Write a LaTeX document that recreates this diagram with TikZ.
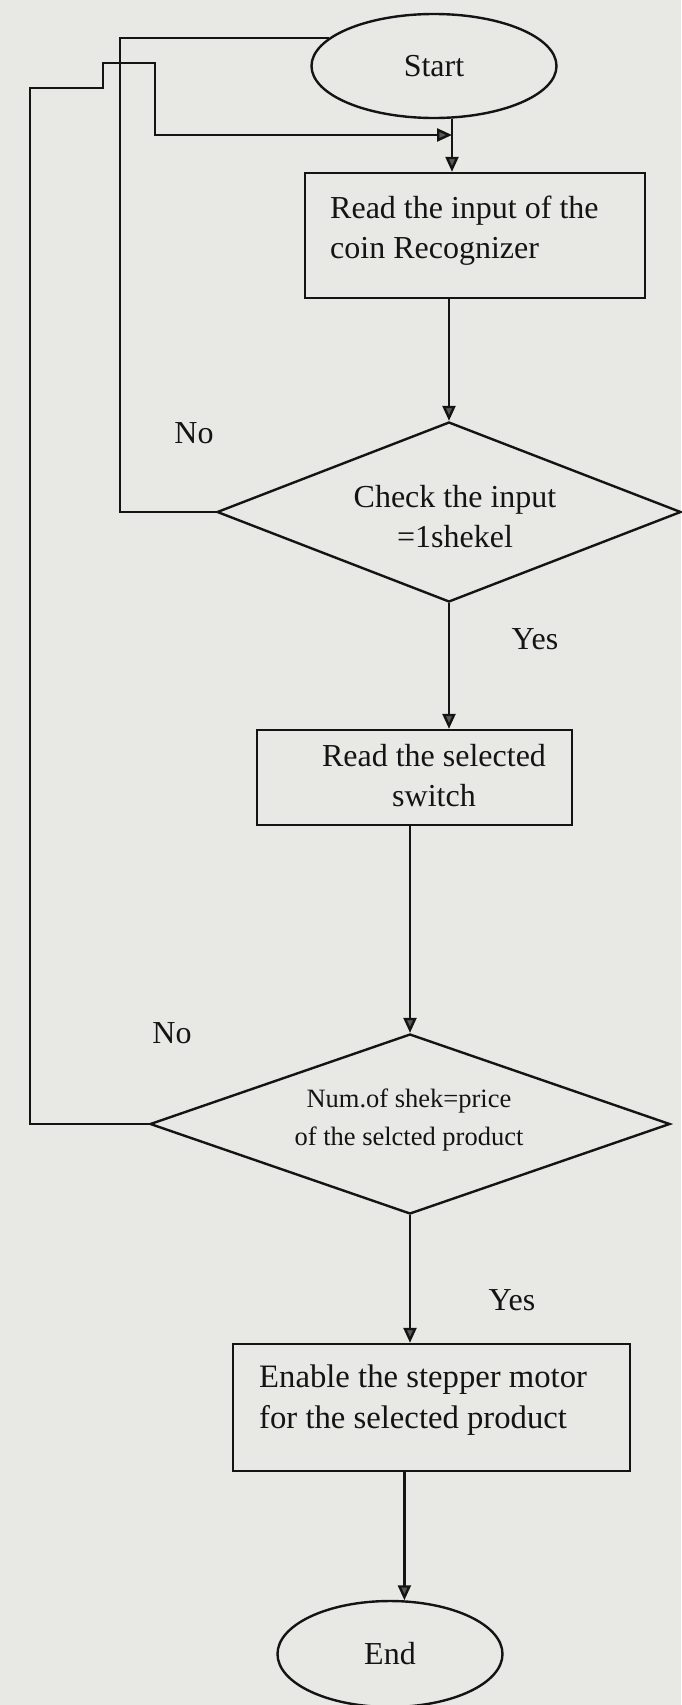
\documentclass[tikz,border=0pt]{standalone}
\usepackage{fontspec}
\setmainfont{Liberation Serif}
\usetikzlibrary{shapes.geometric,arrows.meta}
\definecolor{paper}{RGB}{232,232,229}
\definecolor{ink}{RGB}{20,20,20}
\begin{document}
\begin{tikzpicture}[x=1pt,y=-1pt,
  flow/.style={draw=ink, line width=2.4pt},
  arrow/.style={flow, -{Triangle[length=15pt,width=13pt,fill=black!65]}},
  term/.style={ellipse, draw=ink, line width=2.4pt, inner sep=0pt, text=ink,
    font=\fontsize{32}{40}\selectfont},
  procbox/.style={rectangle, draw=ink, line width=2.4pt, inner sep=0pt},
  decision/.style={diamond, draw=ink, line width=2.4pt, inner sep=0pt},
  caption/.style={inner sep=0pt, text=ink, font=\fontsize{32}{40}\selectfont},
]
% paper
\fill[paper] (0,0) rectangle (681,1705);
\useasboundingbox (0,0) rectangle (681,1705);

% flow chart blocks
\node[term, minimum width=245pt, minimum height=104pt] (start) at (434,66) {Start};
\node[procbox, minimum width=340pt, minimum height=125pt] (box1) at (475,235.5) {};
\node[caption, align=left, anchor=west] (box1txt) at (330,231) {Read the input of the\\coin Recognizer};
\node[decision, minimum width=464pt, minimum height=180pt] (d1) at (449,512) {};
\node[caption, align=center] (d1txt) at (455,517) {Check the input\\=1shekel};
\node[procbox, minimum width=315pt, minimum height=95pt] (box2) at (414.5,777.5) {};
\node[caption, align=center] (box2txt) at (434,776) {Read the selected\\switch};
\node[decision, minimum width=520pt, minimum height=180pt] (d2) at (410,1124) {};
\node[caption, align=center, font=\fontsize{26.5}{38}\selectfont] (d2txt) at (409,1120)
  {Num.of shek=price\\of the selcted product};
\node[procbox, minimum width=397pt, minimum height=127pt] (box3) at (431.5,1407.5) {};
\node[caption, align=left, anchor=west, font=\fontsize{32.7}{41}\selectfont] (box3txt) at (259,1400)
  {Enable the stepper motor\\for the selected product};
\node[term, minimum width=225pt, minimum height=106pt] (end) at (390,1654) {End};

% branch labels
\node[caption] (no1) at (194,433) {No};
\node[caption] (yes1) at (535,639) {Yes};
\node[caption] (no2) at (172,1033) {No};
\node[caption] (yes2) at (512,1300) {Yes};

% main flow
\coordinate (join) at (452,135);
\draw[arrow] (start.south -| join) -- (box1.north -| join);
\draw[arrow] (box1.south -| d1.north) -- (d1.north);
\draw[arrow] (d1.south) -- (d1.south |- box2.north);
\draw[arrow] (box2.south -| d2.north) -- (d2.north);
\draw[arrow] (d2.south) -- (d2.south |- box3.north);
\draw[arrow] (box3.south -| end.75) -- (end.75);

% "No" returns
\coordinate (loopA) at (120,38);
\draw[flow] (d1.west) -| (loopA |- start.165) -- (start.165);
\coordinate (loopB) at (30,88);
\draw[arrow] (d2.west) -| (loopB) -| (103,63) -| (155,135) -- (join);
\end{tikzpicture}
\end{document}
